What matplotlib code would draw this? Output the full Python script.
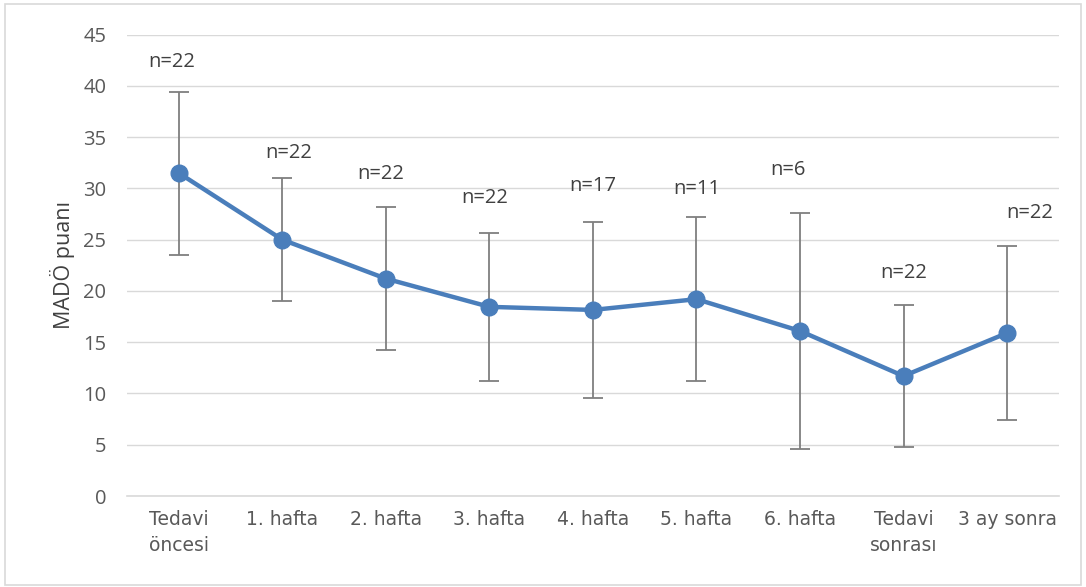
import matplotlib.pyplot as plt
from matplotlib.patches import Rectangle

# veriler (grafikten okunan ortalama ve SS degerleri)
categories = ["Tedavi\nöncesi", "1. hafta", "2. hafta", "3. hafta", "4. hafta",
              "5. hafta", "6. hafta", "Tedavi\nsonrası", "3 ay sonra"]
means = [31.5, 25.0, 21.2, 18.45, 18.15, 19.2, 16.1, 11.7, 15.9]
sds = [7.95, 6.0, 7.0, 7.25, 8.6, 8.0, 11.5, 6.9, 8.45]
n_labels = ["n=22", "n=22", "n=22", "n=22", "n=17", "n=11", "n=6", "n=22", "n=22"]
label_y = [42.3, 33.45, 31.4, 29.1, 30.2, 29.9, 31.8, 21.75, 27.6]
label_dx = [-0.07, 0.06, -0.05, -0.05, 0.0, 0.0, -0.12, 0.0, 0.22]

txt = "#595959"
fig = plt.figure(figsize=(10.86, 5.87), dpi=100)
ax = fig.add_axes([0.117, 0.155, 0.858, 0.786])

x = list(range(len(categories)))
ax.errorbar(x, means, yerr=sds, fmt="none", ecolor="#7f7f7f", elinewidth=1.3,
            capsize=7, capthick=1.3, zorder=2)
ax.plot(x, means, color="#4a7ebb", lw=3.2, marker="o", ms=12, zorder=3)

for i, lab in enumerate(n_labels):
    ax.text(i + label_dx[i], label_y[i], lab, ha="center", va="center",
            fontsize=14.5, color="#404040", family="Open Sans")

ax.set_xlim(-0.5, len(categories) - 0.5)
ax.set_ylim(0, 45)
ax.set_yticks(range(0, 46, 5))
ax.set_xticks(x)
ax.set_xticklabels(categories, fontsize=13.5, color=txt,
                   family=["Liberation Sans Narrow", "DejaVu Sans"], linespacing=1.45)
for lab in ax.get_yticklabels():
    lab.set_fontsize(14.5)
    lab.set_color(txt)
    lab.set_family("Open Sans")
ax.tick_params(axis="both", length=0)
ax.tick_params(axis="y", pad=15)
ax.tick_params(axis="x", pad=10)
ax.grid(axis="y", color="#d9d9d9", lw=1)
ax.axhline(0, color="#d9d9d9", lw=1.2, clip_on=False, zorder=1)
ax.set_axisbelow(True)
for s in ax.spines.values():
    s.set_visible(False)

ax.set_ylabel("MADÖ puanı", fontsize=15.5, color="#404040", family="Open Sans", labelpad=6)

fig.patches.append(Rectangle((0.005, 0.003), 0.99, 0.99, transform=fig.transFigure,
                             fill=False, edgecolor="#d9d9d9", lw=1.2))

fig.savefig("out.png", dpi=100)
